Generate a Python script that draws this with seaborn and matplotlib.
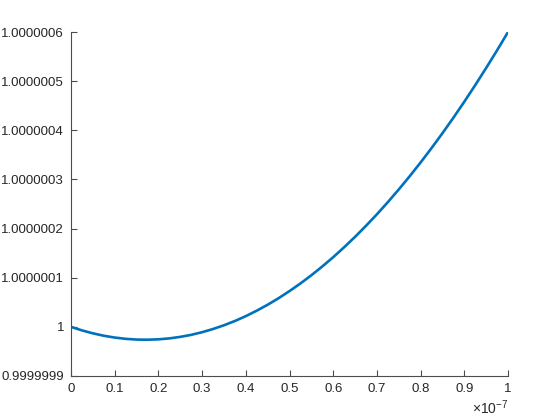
import numpy as np
import pandas as pd
import matplotlib
matplotlib.use("Agg")
import matplotlib.pyplot as plt
import seaborn as sns

# x in units of 1e-7, y as deviation from 1 in units of 1e-7
x_vals = [0.0, 0.025, 0.05, 0.075, 0.1, 0.125, 0.15, 0.175, 0.2, 0.225,
          0.25, 0.275, 0.3, 0.325, 0.35, 0.375, 0.4, 0.425, 0.45, 0.475,
          0.5, 0.525, 0.55, 0.575, 0.6, 0.625, 0.65, 0.675, 0.7, 0.725,
          0.75, 0.775, 0.8, 0.825, 0.85, 0.875, 0.9, 0.925, 0.95, 0.975, 1.0]
y_dev = [0.0, -0.072, -0.132, -0.181, -0.218, -0.244, -0.259, -0.262, -0.254, -0.235,
         -0.204, -0.163, -0.109, -0.044, 0.032, 0.119, 0.218, 0.329, 0.450, 0.583,
         0.728, 0.883, 1.050, 1.229, 1.418, 1.620, 1.832, 2.056, 2.291, 2.538,
         2.796, 3.065, 3.346, 3.638, 3.941, 4.256, 4.582, 4.920, 5.269, 5.628, 6.0]

x_ticks = [0, 0.1, 0.2, 0.3, 0.4, 0.5, 0.6, 0.7, 0.8, 0.9, 1]
x_ticklabels = ["0", "0.1", "0.2", "0.3", "0.4", "0.5", "0.6", "0.7", "0.8", "0.9", "1"]
y_ticks = [-1, 0, 1, 2, 3, 4, 5, 6]
y_ticklabels = ["0.9999999", "1", "1.0000001", "1.0000002", "1.0000003",
                "1.0000004", "1.0000005", "1.0000006"]

df = pd.DataFrame({"x": x_vals, "y": y_dev})

sns.set_style("ticks")
plt.rcParams['font.family'] = ['Liberation Sans', 'DejaVu Sans']
plt.rcParams['mathtext.fontset'] = 'custom'
plt.rcParams['mathtext.rm'] = 'Liberation Sans'

fig = plt.figure(figsize=(5.6, 4.2), dpi=100)
ax = fig.add_axes([0.1268, 0.1048, 0.7804, 0.8190])

sns.lineplot(data=df, x="x", y="y", ax=ax, color="#0072BD", linewidth=1.9)

ax.set_xlim(0, 1)
ax.set_ylim(-1, 6)
ax.set_xticks(x_ticks)
ax.set_xticklabels(x_ticklabels)
ax.set_yticks(y_ticks)
ax.set_yticklabels(y_ticklabels)
ax.set_xlabel("")
ax.set_ylabel("")

for side in ["top", "right"]:
    ax.spines[side].set_visible(False)
for side in ["left", "bottom"]:
    ax.spines[side].set_color("#4d4d4d")
    ax.spines[side].set_linewidth(0.8)
ax.tick_params(direction="in", length=4, width=0.8, colors="#4d4d4d",
               labelcolor="#262626", labelsize=9.5, pad=5)

fig.text(0.908, 0.008, "\u00d710$^{-7}$", ha="right", va="bottom",
         fontsize=10, color="#262626")

fig.savefig("out.png", dpi=100, facecolor="white")
